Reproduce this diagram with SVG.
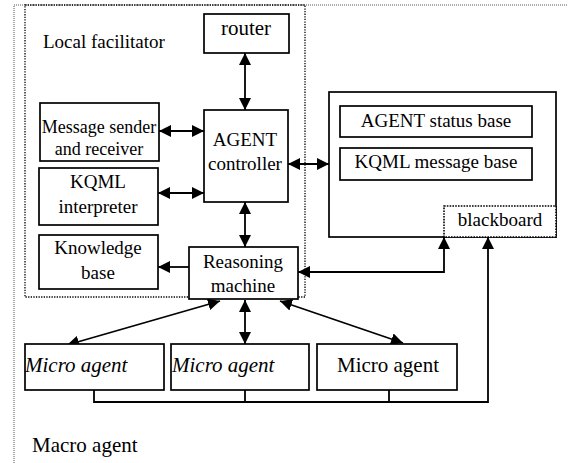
<svg xmlns="http://www.w3.org/2000/svg" width="568" height="463" viewBox="0 0 568 463">
<style>
  text { font-family: "Liberation Serif", "Times New Roman", serif; fill: #000; }
  .box { fill: #fff; stroke: #000; stroke-width: 1.7; }
  .dot { fill: none; stroke: #000; stroke-width: 1.3; stroke-dasharray: 1.3 1.3; }
  .outer { fill: none; stroke: #555; stroke-width: 1; stroke-dasharray: 1 1; }
  .bbdot { fill: #fff; stroke: #000; stroke-width: 1.6; stroke-dasharray: 1.6 1.2; }
  .c { stroke: #000; stroke-width: 1.8; fill: none; }
  .t19 { font-size: 19px; text-anchor: middle; }
  .t18 { font-size: 18px; text-anchor: middle; }
</style>
<defs>
  <marker id="ah" viewBox="0 0 10 10" refX="10" refY="5" markerWidth="12" markerHeight="12" markerUnits="userSpaceOnUse" orient="auto-start-reverse">
    <path d="M0,0 L10,5 L0,10 z" fill="#000"/>
  </marker>
</defs>

<rect width="568" height="463" fill="#fff"/>

<g id="macro-agent">
  <path class="outer" d="M14,463 V5 H568"/>
  <text x="32" y="452" font-size="21">Macro agent</text>
</g>

<g id="local-facilitator">
  <rect class="dot" x="25" y="5" width="280" height="292"/>
  <text x="43" y="48" font-size="19">Local facilitator</text>
</g>

<g id="connectors">
  <line class="c" x1="245" y1="53" x2="245" y2="110" marker-start="url(#ah)" marker-end="url(#ah)"/>
  <line class="c" x1="159" y1="131" x2="204" y2="131" marker-start="url(#ah)" marker-end="url(#ah)"/>
  <line class="c" x1="158" y1="193" x2="204" y2="193" marker-start="url(#ah)" marker-end="url(#ah)"/>
  <line class="c" x1="245" y1="202" x2="245" y2="247" marker-start="url(#ah)" marker-end="url(#ah)"/>
  <line class="c" x1="189" y1="267" x2="158" y2="267" marker-end="url(#ah)"/>
  <line class="c" x1="288" y1="164" x2="329" y2="164" marker-start="url(#ah)" marker-end="url(#ah)"/>
  <polyline class="c" points="298,272 444,272 444,237" marker-start="url(#ah)" marker-end="url(#ah)"/>
  <line class="c" x1="220" y1="301" x2="67" y2="345" marker-start="url(#ah)" marker-end="url(#ah)"/>
  <line class="c" x1="245" y1="300" x2="245" y2="344" marker-start="url(#ah)" marker-end="url(#ah)"/>
  <line class="c" x1="280" y1="301" x2="403" y2="343" marker-start="url(#ah)" marker-end="url(#ah)"/>
  <polyline class="c" points="94,390 94,402 488,402 488,237" marker-end="url(#ah)"/>
  <line class="c" x1="245" y1="390" x2="245" y2="402"/>
  <line class="c" x1="389" y1="390" x2="389" y2="402"/>
</g>

<g id="router">
  <rect class="box" x="204" y="14" width="85" height="39"/>
  <text x="246" y="35" font-size="21" text-anchor="middle">router</text>
</g>

<g id="agent-controller">
  <rect class="box" x="204" y="110" width="84" height="92"/>
  <text class="t19" x="245" y="146">AGENT</text>
  <text class="t19" x="245" y="170">controller</text>
</g>

<g id="message-sender">
  <rect class="box" x="40" y="103" width="119" height="58"/>
  <text class="t18" x="99" y="133">Message sender</text>
  <text class="t18" x="99" y="155">and receiver</text>
</g>

<g id="kqml-interpreter">
  <rect class="box" x="39" y="168" width="119" height="57"/>
  <text class="t19" x="98" y="188">KQML</text>
  <text class="t19" x="98" y="213">interpreter</text>
</g>

<g id="knowledge-base">
  <rect class="box" x="39" y="235" width="119" height="54"/>
  <text class="t19" x="98" y="254">Knowledge</text>
  <text class="t19" x="98" y="279">base</text>
</g>

<g id="reasoning-machine">
  <rect class="box" x="189" y="247" width="109" height="52"/>
  <text class="t19" x="243" y="268">Reasoning</text>
  <text class="t19" x="243" y="292">machine</text>
</g>

<g id="blackboard-container">
  <rect class="box" x="329" y="92" width="227" height="145"/>
</g>

<g id="agent-status-base">
  <rect class="box" x="340" y="106" width="192" height="31"/>
  <text class="t19" x="436" y="127">AGENT status base</text>
</g>

<g id="kqml-message-base">
  <rect class="box" x="340" y="148" width="192" height="32"/>
  <text class="t19" x="436" y="168">KQML message base</text>
</g>

<g id="blackboard">
  <rect class="bbdot" x="444" y="206" width="112" height="31"/>
  <text class="t19" x="500" y="226">blackboard</text>
</g>

<g id="micro-agent-1">
  <rect class="box" x="25" y="344" width="139" height="46"/>
  <text x="25" y="372" font-size="21" font-style="italic">Micro agent</text>
</g>

<g id="micro-agent-2">
  <rect class="box" x="171" y="344" width="138" height="46"/>
  <text x="172" y="372" font-size="21" font-style="italic">Micro agent</text>
</g>

<g id="micro-agent-3">
  <rect class="box" x="317" y="344" width="140" height="46"/>
  <text x="388" y="372" font-size="21" text-anchor="middle">Micro agent</text>
</g>
</svg>
